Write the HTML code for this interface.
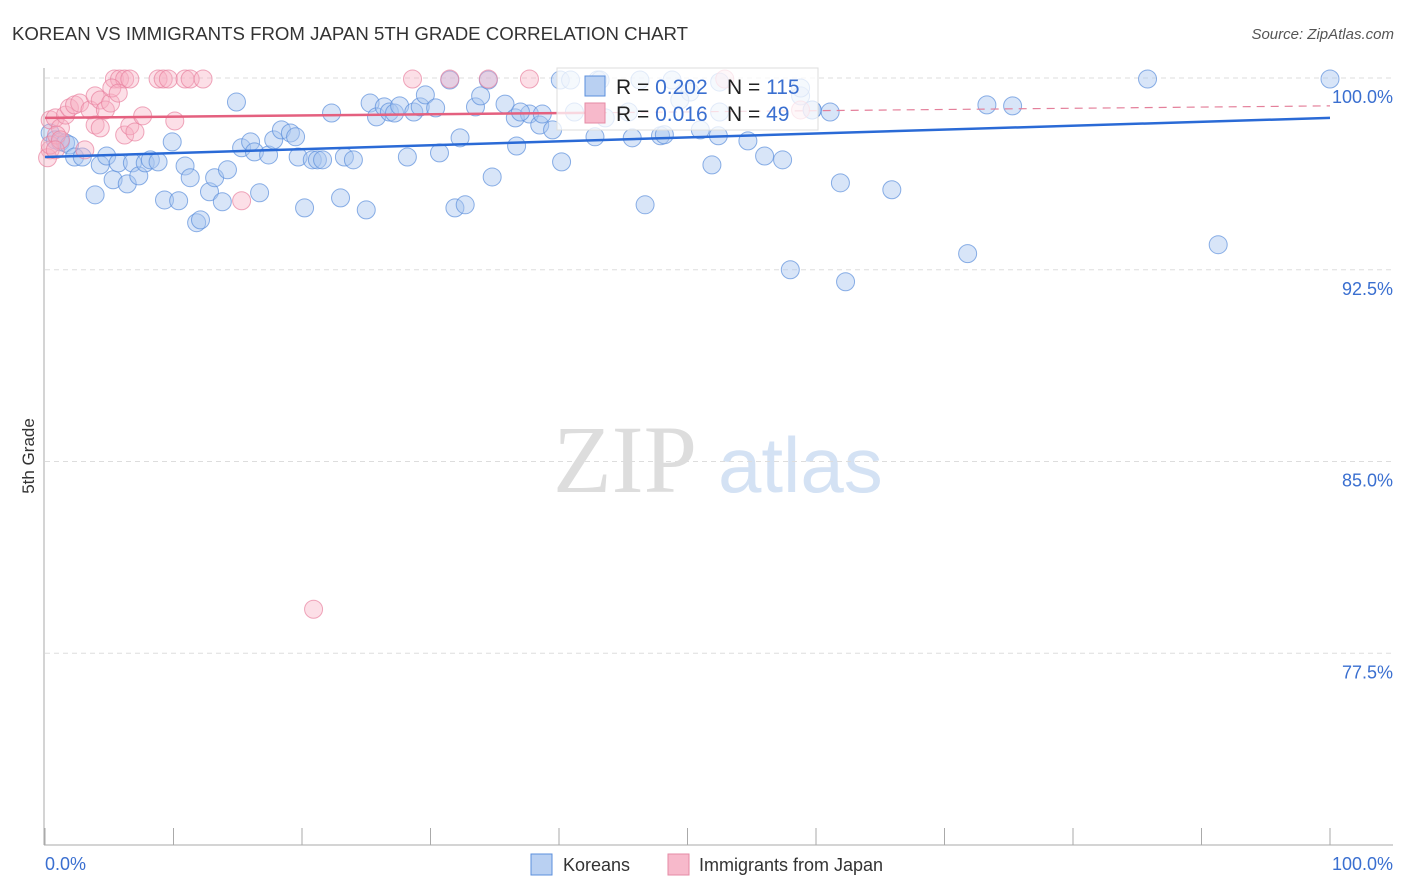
<!DOCTYPE html>
<html><head><meta charset="utf-8"><style>
body{margin:0;background:#fff;font-family:"Liberation Sans",sans-serif;}
svg{display:block}
</style></head><body>
<svg id="c" width="1406" height="892">
<text x="12" y="40" font-size="18" fill="#333" textLength="676" lengthAdjust="spacingAndGlyphs">KOREAN VS IMMIGRANTS FROM JAPAN 5TH GRADE CORRELATION CHART</text>
<text x="1394" y="39" font-size="15" fill="#555" text-anchor="end" font-style="italic">Source: ZipAtlas.com</text>
<text x="34" y="456" font-size="17" fill="#333" text-anchor="middle" transform="rotate(-90 34 456)">5th Grade</text>
<g>
<text x="553" y="492" font-size="96" fill="#ddd" font-family="Liberation Serif,serif">ZIP</text>
<text x="718" y="492" font-size="78" fill="#d4e2f4">atlas</text>
</g>
<g id="grid"></g><g id="axes"></g><g id="pts"></g><g id="lines"></g>
<g>
<rect x="557" y="68" width="261" height="62" fill="#fff" fill-opacity="0.75" stroke="#ddd"/>
<rect x="585" y="76" width="20" height="20" fill="#b9d0f2" stroke="#5b8fdc"/>
<rect x="585" y="103" width="20" height="20" fill="#f7b9cb" stroke="#e58aa5"/>
<text x="616" y="94" font-size="21" fill="#222">R = <tspan fill="#3a6fd0">0.202</tspan></text>
<text x="727" y="94" font-size="21" fill="#222">N = <tspan fill="#3a6fd0">115</tspan></text>
<text x="616" y="121" font-size="21" fill="#222">R = <tspan fill="#3a6fd0">0.016</tspan></text>
<text x="727" y="121" font-size="21" fill="#222">N = <tspan fill="#3a6fd0"> 49</tspan></text>
</g>
<g>
<rect x="531" y="854" width="21" height="21" fill="#b9d0f2" stroke="#5b8fdc"/>
<text x="563" y="871" font-size="18" fill="#333">Koreans</text>
<rect x="668" y="854" width="21" height="21" fill="#f7b9cb" stroke="#e58aa5"/>
<text x="699" y="871" font-size="18" fill="#333">Immigrants from Japan</text>
</g>
</svg>
<script>
const yTicks=[100,92.5,85,77.5];
const yTickLabels=["100.0%","92.5%","85.0%","77.5%"];
const xTicks=[0,10,20,30,40,50,60,70,80,90,100];
const xEndLabels=["0.0%","100.0%"];
const koreaX=[0.4,0.8,1.2,1.6,1.9,2.3,2.9,3.9,4.3,4.8,5.3,5.7,6.4,6.8,7.3,7.8,8.2,8.8,9.9,9.3,10.4,10.9,11.3,11.8,12.1,12.8,13.2,13.8,14.2,14.9,15.3,16.0,16.3,16.7,17.4,17.8,18.4,19.1,19.5,19.7,20.2,20.8,21.2,21.6,22.3,23.0,23.3,24.0,25.0,25.3,25.8,26.4,26.8,27.2,27.6,28.2,28.7,29.2,29.6,30.4,30.7,31.5,31.9,32.3,32.7,33.5,33.9,34.5,34.8,35.8,36.6,36.7,37.7,38.5,38.7,39.5,40.1,40.2,41.2,42.8,43.0,43.6,45.4,45.7,46.7,47.9,48.2,48.8,51.0,51.9,52.4,54.7,56.0,57.4,58.0,58.8,59.7,61.1,61.9,62.3,65.9,71.8,73.3,75.3,85.8,91.3,100,46.3,50.2,52.5,58.8,59.7,52.5,43.2,40.9,37.0,49.4];
const koreaY=[97.85,97.58,97.5,97.46,97.38,96.91,96.91,95.43,96.6,96.95,96.02,96.68,95.86,96.68,96.17,96.68,96.8,96.72,97.5,95.23,95.2,96.56,96.1,94.34,94.45,95.55,96.1,95.16,96.41,99.06,97.27,97.5,97.11,95.51,96.99,97.58,97.97,97.85,97.7,96.91,94.92,96.8,96.8,96.8,98.63,95.31,96.91,96.8,94.84,99.02,98.48,98.87,98.67,98.63,98.91,96.91,98.67,98.87,99.34,98.83,97.07,99.92,94.92,97.66,95.04,98.87,99.3,99.92,96.13,98.98,98.44,97.34,98.59,98.16,98.59,97.97,99.92,96.72,98.67,97.7,99.92,98.44,98.67,97.66,95.04,97.74,97.78,99.92,97.97,96.6,97.74,97.54,96.95,96.8,92.5,99.3,98.75,98.67,95.9,92.03,95.63,93.13,98.95,98.91,99.96,93.48,99.96,99.92,99.45,99.84,99.61,98.75,98.67,99.92,99.92,98.67,99.14];
const japanX=[5.4,5.8,6.2,6.6,8.8,9.2,9.6,10.9,11.3,12.3,28.6,31.5,34.5,37.7,52.9,0.4,0.8,1.2,1.6,1.9,2.3,2.7,3.5,3.9,4.3,4.7,5.1,5.2,5.7,6.2,6.6,7.0,7.6,10.1,0.4,0.2,0.4,0.9,3.1,3.9,4.3,15.3,20.9,58.8,1.2,0.8];
const japanY=[99.96,99.96,99.96,99.96,99.96,99.96,99.96,99.96,99.96,99.96,99.96,99.96,99.96,99.96,99.96,98.36,98.44,98.05,98.55,98.83,98.95,99.02,98.75,99.3,99.14,98.75,99.02,99.61,99.41,97.77,98.13,97.89,98.52,98.32,97.19,96.88,97.38,97.77,97.19,98.16,98.05,95.2,79.22,98.75,97.58,97.19];
const koreaTrend=[96.91,98.44];
const japanTrend=[98.44,98.91];
const japanSolidEnd=42;
const NS="http://www.w3.org/2000/svg";
const X0=45,X1=1330,YT=78,YB=845;
function sx(v){return X0+(X1-X0)*v/100;}
function sy(v){return YT+(100-v)*(YB-YT)/30;}
function mk(tag,attrs,parent){const e=document.createElementNS(NS,tag);for(const k in attrs)e.setAttribute(k,attrs[k]);parent.appendChild(e);return e;}
const grid=document.getElementById('grid'),axes=document.getElementById('axes'),pts=document.getElementById('pts'),lines=document.getElementById('lines');
yTicks.forEach((t,i)=>{
 const l=mk('line',{x1:X0,x2:1393,y1:sy(t),y2:sy(t),stroke:'#ddd','stroke-dasharray':'5,4'},grid);
 
 
 const tx=mk('text',{x:1393,y:sy(t)+25,'font-size':18,fill:'#3a6fd0','text-anchor':'end'},axes);
 tx.textContent=yTickLabels[i];
 
 
});
const ya=mk('line',{x1:44,x2:44,y1:68,y2:YB,stroke:'#aaa'},axes);


const xa=mk('line',{x1:44,x2:1393,y1:YB,y2:YB,stroke:'#aaa'},axes);


xTicks.forEach(t=>{
 const l=mk('line',{x1:sx(t),x2:sx(t),y1:828,y2:YB,stroke:'#aaa'},axes);
 
 
});
[[0,'start',45],[1,'end',1393]].forEach(([i,a,x])=>{
 const tx=mk('text',{x:x,y:870,'font-size':18,fill:'#3a6fd0','text-anchor':a},axes);
 tx.textContent=xEndLabels[i];
 
 
});
koreaX.forEach((v,i)=>{
 const c=mk('circle',{cx:sx(v),cy:sy(koreaY[i]),r:9,fill:'#a9c6f0','fill-opacity':0.45,stroke:'#5b8fdc','stroke-opacity':0.7},pts);
 
 
});
japanX.forEach((v,i)=>{
 const c=mk('circle',{cx:sx(v),cy:sy(japanY[i]),r:9,fill:'#f7b0c4','fill-opacity':0.4,stroke:'#e8829f','stroke-opacity':0.7},pts);
 
 
});
const kt=mk('line',{x1:sx(0),x2:sx(100),y1:sy(koreaTrend[0]),y2:sy(koreaTrend[1]),stroke:'#2a6ad6','stroke-width':2.5},lines);


const jm=japanTrend[0]+(japanTrend[1]-japanTrend[0])*japanSolidEnd/100;
const jt=mk('line',{x1:sx(0),x2:sx(japanSolidEnd),y1:sy(japanTrend[0]),y2:sy(jm),stroke:'#e4607f','stroke-width':2.5},lines);


const jd=mk('line',{x1:sx(japanSolidEnd),x2:sx(100),y1:sy(jm),y2:sy(japanTrend[1]),stroke:'#e4809b','stroke-width':1.2,'stroke-dasharray':'8,6'},lines);


</script>
</body></html>
